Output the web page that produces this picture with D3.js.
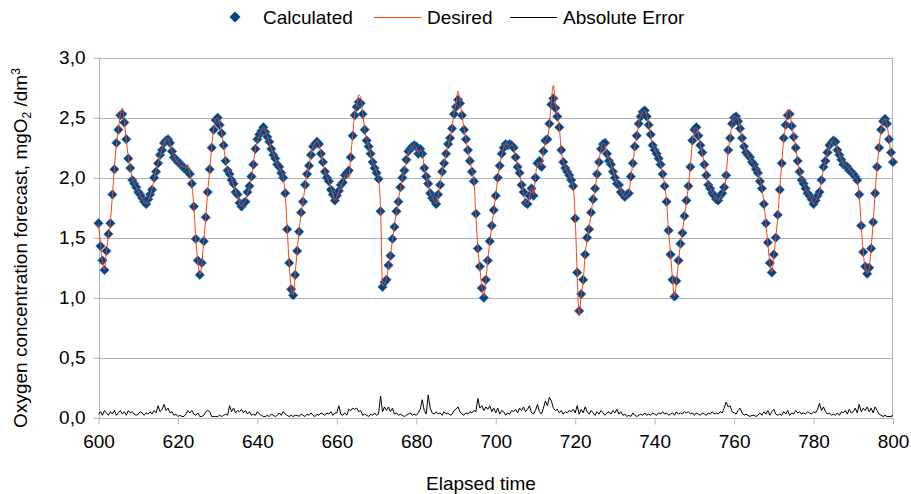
<!DOCTYPE html>
<html>
<head>
<meta charset="utf-8">
<script src="https://cdn.jsdelivr.net/npm/d3@7"></script>
<style>
  body { margin: 0; background: #fff; }
  svg text { font-family: "Liberation Sans", Arial, sans-serif; fill: #000; }
</style>
</head>
<body>
<svg id="chart"></svg>
<script>
// oxygen forecast, samples every 0.5 time units from 600 to 800
const tStart = 600
const tStep = 0.5

const desired = [
  1.62,1.45,1.30,1.23,1.38,1.52,1.64,1.85,2.08,2.28,2.39,2.53,2.58,2.47,2.31,2.17,2.08,1.99,1.95,1.92,
  1.89,1.86,1.82,1.79,1.78,1.81,1.85,1.91,1.99,2.06,2.12,2.18,2.24,2.29,2.32,2.33,2.28,2.22,2.18,2.15,
  2.13,2.11,2.10,2.09,2.08,2.11,2.03,1.94,1.76,1.48,1.31,1.19,1.28,1.48,1.66,1.89,2.06,2.26,2.41,2.49,
  2.50,2.45,2.37,2.26,2.14,2.07,2.03,1.99,1.94,1.89,1.85,1.79,1.76,1.78,1.81,1.87,1.93,2.00,2.12,2.24,
  2.31,2.36,2.40,2.42,2.39,2.34,2.29,2.24,2.20,2.16,2.11,2.08,2.05,2.00,1.86,1.58,1.28,1.08,1.02,1.20,
  1.38,1.56,1.70,1.80,1.93,2.04,2.10,2.20,2.26,2.29,2.31,2.28,2.21,2.12,2.05,2.01,1.97,1.91,1.86,1.81,
  1.84,1.89,1.93,1.96,2.01,2.03,2.00,2.18,2.36,2.53,2.60,2.69,2.67,2.54,2.40,2.32,2.26,2.19,2.13,2.09,
  2.05,2.00,1.75,1.10,1.12,1.16,1.26,1.36,1.48,1.60,1.71,1.81,1.91,2.00,2.07,2.15,2.21,2.24,2.26,2.27,
  2.25,2.21,2.23,2.21,2.08,2.02,1.94,1.87,1.84,1.81,1.78,1.85,1.95,2.05,2.13,2.20,2.27,2.33,2.42,2.54,
  2.62,2.72,2.64,2.52,2.41,2.32,2.22,2.14,2.06,1.98,1.68,1.42,1.25,1.09,1.01,1.14,1.32,1.46,1.60,1.72,
  1.86,1.99,2.10,2.19,2.25,2.28,2.28,2.27,2.27,2.26,2.16,2.09,2.05,1.94,1.87,1.79,1.78,1.84,1.92,1.86,
  2.01,2.12,2.13,2.10,2.22,2.30,2.33,2.44,2.64,2.77,2.62,2.52,2.42,2.22,2.13,2.09,2.05,2.02,1.99,1.92,
  1.67,1.20,0.85,1.02,1.14,1.36,1.49,1.58,1.70,1.82,1.90,2.03,2.14,2.24,2.29,2.28,2.20,2.15,2.11,2.06,
  2.00,1.96,1.94,1.89,1.86,1.84,1.85,1.87,2.00,2.12,2.25,2.35,2.45,2.52,2.55,2.56,2.52,2.44,2.35,2.27,
  2.24,2.20,2.17,2.11,2.04,1.94,1.80,1.55,1.37,1.15,1.01,1.14,1.30,1.45,1.55,1.68,1.80,1.93,2.10,2.30,
  2.40,2.42,2.36,2.27,2.20,2.11,2.02,1.95,1.91,1.88,1.85,1.83,1.81,1.84,1.87,1.91,2.02,2.22,2.33,2.46,
  2.51,2.51,2.48,2.41,2.32,2.26,2.22,2.19,2.16,2.13,2.11,2.08,2.04,1.98,1.91,1.79,1.62,1.45,1.29,1.21,
  1.35,1.50,1.68,1.91,2.12,2.32,2.44,2.57,2.56,2.43,2.35,2.25,2.14,2.06,1.98,1.95,1.91,1.88,1.85,1.82,
  1.78,1.81,1.84,1.89,1.98,2.08,2.14,2.21,2.26,2.29,2.31,2.30,2.24,2.19,2.15,2.12,2.10,2.09,2.07,2.05,
  2.03,2.00,1.98,1.85,1.60,1.38,1.25,1.20,1.24,1.42,1.62,1.88,2.09,2.26,2.40,2.48,2.49,2.44,2.32,2.20,2.13
]

const calculated = [
  1.62,1.43,1.31,1.23,1.39,1.53,1.62,1.86,2.07,2.29,2.40,2.52,2.53,2.46,2.32,2.16,2.08,1.98,1.95,1.92,
  1.88,1.86,1.83,1.80,1.78,1.82,1.86,1.90,2.00,2.05,2.12,2.19,2.23,2.29,2.31,2.32,2.29,2.22,2.17,2.15,
  2.13,2.12,2.10,2.08,2.07,2.05,2.03,1.95,1.76,1.49,1.31,1.19,1.29,1.47,1.67,1.88,2.07,2.25,2.40,2.48,
  2.50,2.44,2.37,2.27,2.14,2.06,2.03,1.98,1.95,1.88,1.86,1.79,1.76,1.79,1.80,1.88,1.93,2.01,2.11,2.24,
  2.32,2.36,2.39,2.42,2.38,2.34,2.30,2.24,2.19,2.16,2.11,2.09,2.04,2.00,1.87,1.57,1.29,1.07,1.02,1.19,
  1.39,1.55,1.71,1.80,1.94,2.03,2.10,2.19,2.26,2.28,2.30,2.28,2.20,2.13,2.05,2.00,1.97,1.90,1.86,1.81,
  1.85,1.89,1.94,1.96,2.02,2.04,2.06,2.17,2.35,2.52,2.59,2.63,2.62,2.53,2.40,2.31,2.26,2.20,2.13,2.08,
  2.04,1.99,1.72,1.09,1.13,1.15,1.27,1.35,1.49,1.59,1.72,1.80,1.92,2.00,2.06,2.15,2.22,2.24,2.26,2.27,
  2.26,2.20,2.24,2.20,2.08,2.01,1.95,1.87,1.83,1.81,1.78,1.86,1.94,2.05,2.12,2.20,2.28,2.33,2.41,2.53,
  2.59,2.65,2.62,2.52,2.40,2.32,2.23,2.14,2.05,1.97,1.70,1.41,1.26,1.08,1.00,1.15,1.31,1.47,1.60,1.73,
  1.85,2.00,2.10,2.20,2.25,2.28,2.27,2.28,2.27,2.25,2.17,2.09,2.04,1.94,1.88,1.79,1.78,1.85,1.91,1.85,
  2.00,2.12,2.14,2.09,2.22,2.31,2.32,2.45,2.61,2.66,2.58,2.51,2.42,2.23,2.13,2.08,2.05,2.02,1.98,1.93,
  1.66,1.21,0.89,1.03,1.15,1.36,1.50,1.57,1.71,1.82,1.91,2.03,2.13,2.24,2.28,2.29,2.20,2.14,2.11,2.05,
  2.00,1.95,1.94,1.88,1.86,1.84,1.86,1.87,2.01,2.12,2.26,2.35,2.45,2.51,2.55,2.56,2.51,2.44,2.36,2.27,
  2.23,2.20,2.16,2.11,2.03,1.93,1.80,1.56,1.36,1.15,1.01,1.14,1.31,1.45,1.54,1.68,1.81,1.93,2.09,2.31,
  2.40,2.42,2.35,2.27,2.21,2.11,2.02,1.94,1.91,1.87,1.85,1.82,1.81,1.85,1.87,1.92,2.02,2.23,2.33,2.45,
  2.50,2.51,2.47,2.41,2.33,2.26,2.21,2.19,2.17,2.13,2.11,2.07,2.04,1.97,1.91,1.78,1.62,1.46,1.29,1.21,
  1.36,1.50,1.69,1.90,2.12,2.33,2.44,2.52,2.53,2.43,2.34,2.25,2.14,2.05,1.98,1.95,1.91,1.87,1.85,1.82,
  1.78,1.81,1.85,1.88,1.98,2.09,2.14,2.21,2.27,2.29,2.31,2.30,2.23,2.19,2.15,2.11,2.10,2.09,2.06,2.05,
  2.03,2.01,1.98,1.86,1.60,1.38,1.26,1.20,1.25,1.41,1.63,1.87,2.09,2.25,2.40,2.47,2.49,2.45,2.32,2.21,2.13
]

const absError = [
  0.03,0.05,0.02,0.06,0.04,0.02,0.05,0.03,0.06,0.02,0.04,0.06,0.03,0.05,0.02,0.06,0.04,0.05,0.03,0.02,
  0.03,0.05,0.04,0.02,0.04,0.03,0.05,0.03,0.06,0.04,0.10,0.05,0.07,0.11,0.06,0.08,0.04,0.05,0.02,0.03,
  0.01,0.02,0.01,0.01,0.03,0.06,0.04,0.06,0.03,0.02,0.04,0.01,0.01,0.02,0.05,0.06,0.05,0.01,0.01,0.01,
  0.01,0.02,0.01,0.02,0.03,0.02,0.10,0.05,0.08,0.04,0.06,0.05,0.07,0.04,0.06,0.03,0.05,0.02,0.03,0.02,
  0.05,0.03,0.02,0.01,0.01,0.02,0.01,0.03,0.02,0.01,0.02,0.04,0.02,0.05,0.03,0.02,0.01,0.02,0.01,0.02,
  0.02,0.01,0.03,0.02,0.01,0.03,0.02,0.04,0.02,0.01,0.03,0.02,0.04,0.03,0.02,0.04,0.03,0.05,0.02,0.04,
  0.04,0.10,0.03,0.02,0.04,0.02,0.07,0.06,0.08,0.07,0.08,0.05,0.06,0.02,0.03,0.02,0.01,0.03,0.02,0.04,
  0.02,0.03,0.18,0.05,0.09,0.06,0.09,0.05,0.08,0.03,0.04,0.02,0.03,0.02,0.01,0.02,0.03,0.04,0.02,0.03,
  0.02,0.04,0.07,0.15,0.06,0.03,0.19,0.08,0.04,0.03,0.05,0.03,0.04,0.02,0.05,0.03,0.04,0.02,0.03,0.06,
  0.07,0.09,0.05,0.03,0.02,0.04,0.03,0.05,0.04,0.06,0.05,0.16,0.08,0.10,0.06,0.09,0.07,0.10,0.05,0.08,
  0.04,0.08,0.03,0.06,0.05,0.02,0.04,0.03,0.06,0.05,0.07,0.04,0.08,0.06,0.09,0.05,0.07,0.10,0.04,0.03,
  0.06,0.11,0.05,0.03,0.08,0.14,0.10,0.17,0.14,0.08,0.06,0.07,0.04,0.06,0.03,0.05,0.04,0.06,0.05,0.07,
  0.04,0.10,0.03,0.07,0.04,0.09,0.05,0.03,0.06,0.04,0.02,0.05,0.03,0.06,0.04,0.02,0.04,0.05,0.03,0.06,
  0.04,0.07,0.03,0.05,0.02,0.03,0.01,0.02,0.01,0.04,0.02,0.01,0.02,0.03,0.02,0.04,0.02,0.03,0.02,0.04,
  0.03,0.02,0.04,0.03,0.05,0.03,0.04,0.02,0.03,0.04,0.02,0.05,0.03,0.04,0.03,0.05,0.04,0.05,0.03,0.04,
  0.02,0.04,0.03,0.02,0.04,0.03,0.02,0.04,0.03,0.05,0.03,0.04,0.03,0.05,0.04,0.08,0.13,0.09,0.10,0.05,
  0.04,0.03,0.06,0.08,0.04,0.02,0.03,0.02,0.01,0.02,0.02,0.01,0.02,0.04,0.02,0.05,0.03,0.06,0.02,0.05,
  0.07,0.03,0.02,0.03,0.02,0.05,0.03,0.06,0.02,0.04,0.03,0.06,0.04,0.05,0.03,0.04,0.03,0.05,0.04,0.03,
  0.05,0.04,0.07,0.12,0.06,0.09,0.05,0.03,0.04,0.02,0.03,0.02,0.04,0.02,0.05,0.04,0.06,0.03,0.07,0.04,
  0.05,0.08,0.04,0.11,0.05,0.08,0.06,0.09,0.05,0.08,0.04,0.09,0.06,0.03,0.02,0.01,0.02,0.01,0.01,0.01,0.02
]

const xTicks = [600, 620, 640, 660, 680, 700, 720, 740, 760, 780, 800]
const yTicks = [0, 0.5, 1, 1.5, 2, 2.5, 3]
const seriesNames = ['Calculated', 'Desired', 'Absolute Error']

const width = 911
const height = 494
const margin = { top: 57.7, right: 18, bottom: 76.3, left: 98.5 }

const blue = '#004586'
const orange = '#ff420e'
const grid = '#b3b3b3'

const svg = d3.select('#chart')
    .attr('width', width)
    .attr('height', height)

let x = d3.scaleLinear()
    .domain([600, 800])
    .range([margin.left, width - margin.right])

let y = d3.scaleLinear()
    .domain([0, 3])
    .range([height - margin.bottom, margin.top])

// comma decimal, like the original
const fmt = d3.formatLocale({ decimal: ',', thousands: '.', grouping: [3], currency: ['', ''] }).format('.1f')

const tOf = i => tStart + i * tStep

// gridlines
svg.append('g')
    .selectAll('line')
    .data(yTicks)
    .join('line')
    .attr('x1', x(600))
    .attr('x2', x(800))
    .attr('y1', d => Math.round(y(d)) + 0.5)
    .attr('y2', d => Math.round(y(d)) + 0.5)
    .style('stroke', grid)
    .style('stroke-width', 1)

// frame: left and right edges
svg.append('line')
    .attr('x1', Math.round(x(600)) + 0.5).attr('x2', Math.round(x(600)) + 0.5)
    .attr('y1', y(3)).attr('y2', y(0))
    .style('stroke', grid)
svg.append('line')
    .attr('x1', Math.round(x(800)) - 0.5).attr('x2', Math.round(x(800)) - 0.5)
    .attr('y1', y(3)).attr('y2', y(0))
    .style('stroke', grid)

// y axis
let yAxis = d3.axisLeft(y)
    .tickValues(yTicks)
    .tickFormat(fmt)
    .tickSize(6)
    .tickPadding(8)

svg.append('g')
    .attr('class', 'y-axis')
    .attr('transform', `translate(${Math.round(x(600)) + 0.5},0)`)
    .call(yAxis)
    .call(g => g.select('.domain').remove())
    .call(g => g.selectAll('line').style('stroke', grid))
    .call(g => g.selectAll('text').style('font-size', '19px').style('fill', '#000'))

// x axis
let xAxis = d3.axisBottom(x)
    .tickValues(xTicks)
    .tickFormat(d3.format('d'))
    .tickSize(6)
    .tickPadding(10)

svg.append('g')
    .attr('class', 'x-axis')
    .attr('transform', `translate(0,${Math.round(y(0)) + 0.5})`)
    .call(xAxis)
    .call(g => g.select('.domain').remove())
    .call(g => g.selectAll('line').style('stroke', grid))
    .call(g => g.selectAll('text').style('font-size', '19px').style('fill', '#000'))

// series
const plot = svg.append('g')

let errLine = d3.line()
    .x((d, i) => x(tOf(i)))
    .y(d => y(d))

plot.append('path')
    .datum(absError)
    .attr('d', errLine)
    .style('fill', 'none')
    .style('stroke', '#000')
    .style('stroke-width', 1)

let diamond = d3.symbol().type(d3.symbolSquare).size(44)

plot.append('g')
    .selectAll('path')
    .data(calculated)
    .join('path')
    .attr('d', diamond)
    .attr('transform', (d, i) => `translate(${x(tOf(i))},${y(d)}) rotate(45)`)
    .style('fill', blue)
    .style('stroke', '#3f73aa')
    .style('stroke-width', 0.7)

let desiredLine = d3.line()
    .x((d, i) => x(tOf(i)))
    .y(d => y(d))
    .curve(d3.curveMonotoneX)

plot.append('path')
    .datum(desired)
    .attr('d', desiredLine)
    .style('fill', 'none')
    .style('stroke', orange)
    .style('stroke-width', 1)

// legend
const legend = svg.append('g').attr('class', 'legend')

legend.append('path')
    .attr('d', d3.symbol().type(d3.symbolSquare).size(60))
    .attr('transform', 'translate(235,17) rotate(45)')
    .style('fill', blue)

legend.append('text').attr('x', 263).attr('y', 24).style('font-size', '19px').text(seriesNames[0])

legend.append('line')
    .attr('x1', 374).attr('x2', 421).attr('y1', 17.5).attr('y2', 17.5)
    .style('stroke', orange).style('stroke-width', 1.2)

legend.append('text').attr('x', 427).attr('y', 24).style('font-size', '19px').text(seriesNames[1])

legend.append('line')
    .attr('x1', 510).attr('x2', 557).attr('y1', 17.5).attr('y2', 17.5)
    .style('stroke', '#000').style('stroke-width', 1)

legend.append('text').attr('x', 563).attr('y', 24).style('font-size', '19px').text(seriesNames[2])

// axis titles
svg.append('text')
    .attr('x', 481)
    .attr('y', 490)
    .attr('text-anchor', 'middle')
    .style('font-size', '19px')
    .text('Elapsed time')

let yTitle = svg.append('text')
    .attr('transform', 'translate(27,248) rotate(-90)')
    .attr('text-anchor', 'middle')
    .style('font-size', '19px')

yTitle.append('tspan').text('Oxygen concentration forecast, mgO')
yTitle.append('tspan').attr('dy', 4).style('font-size', '12px').text('2')
yTitle.append('tspan').attr('dy', -4).text(' /dm')
yTitle.append('tspan').attr('dy', -7).style('font-size', '12px').text('3')
</script>
</body>
</html>
